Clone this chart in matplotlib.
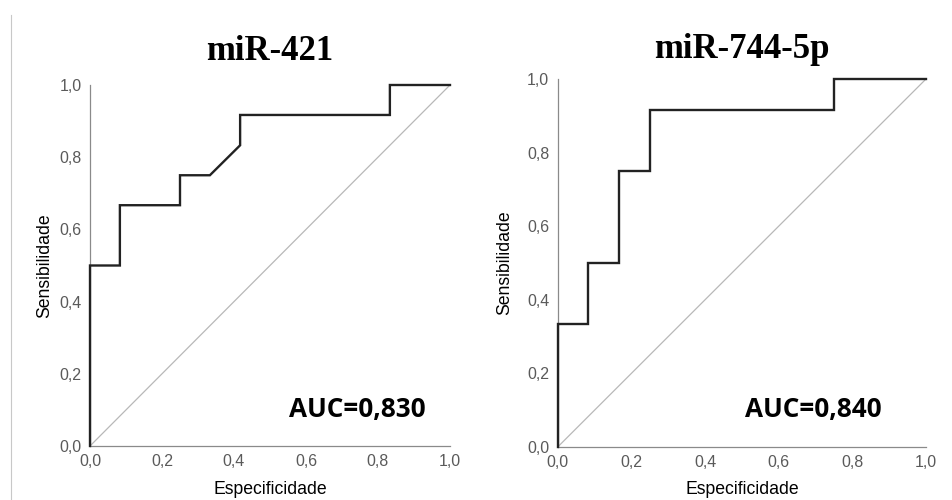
import matplotlib
matplotlib.use("Agg")
import matplotlib.pyplot as plt
from matplotlib.lines import Line2D

# Data
titles = ["miR-421", "miR-744-5p"]
auc_labels = ["AUC=0,830", "AUC=0,840"]
roc1_x = [0.0, 0.0, 0.083, 0.083, 0.25, 0.25, 0.333, 0.417, 0.417, 0.833, 0.833, 1.0]
roc1_y = [0.0, 0.5, 0.5, 0.667, 0.667, 0.75, 0.75, 0.833, 0.917, 0.917, 1.0, 1.0]
roc2_x = [0.0, 0.0, 0.083, 0.083, 0.167, 0.167, 0.25, 0.25, 0.75, 0.75, 1.0]
roc2_y = [0.0, 0.333, 0.333, 0.5, 0.5, 0.75, 0.75, 0.917, 0.917, 1.0, 1.0]
ticks = [0.0, 0.2, 0.4, 0.6, 0.8, 1.0]
tick_labels = ["0,0", "0,2", "0,4", "0,6", "0,8", "1,0"]
xlabel = "Especificidade"
ylabel = "Sensibilidade"

W, H = 953, 500
fig = plt.figure(figsize=(W / 100, H / 100), dpi=100)
fig.patch.set_facecolor("white")

def px_axes(x0, x1, ytop, ybot):
    return fig.add_axes([x0 / W, 1 - ybot / H, (x1 - x0) / W, (ybot - ytop) / H])

panels = [
    dict(box=(90, 450, 85, 446), xs=roc1_x, ys=roc1_y, title=titles[0], ty=52,
         auc=auc_labels[0], ax_x=289, ylx=45),
    dict(box=(557.7, 926, 79, 447), xs=roc2_x, ys=roc2_y, title=titles[1], ty=49,
         auc=auc_labels[1], ax_x=745, ylx=505),
]

for p in panels:
    x0, x1, yt, yb = p["box"]
    ax = px_axes(x0, x1, yt, yb)
    ax.set_xlim(0, 1)
    ax.set_ylim(0, 1)
    ax.plot([0, 1], [0, 1], color="#b8b8b8", lw=0.9, clip_on=False, zorder=2)
    ax.plot(p["xs"], p["ys"], color="#222222", lw=1.7, clip_on=False, zorder=3,
            solid_joinstyle="miter")
    for s in ["top", "right"]:
        ax.spines[s].set_visible(False)
    for s in ["left", "bottom"]:
        ax.spines[s].set_color("#8a8a8a")
        ax.spines[s].set_linewidth(0.9)
    ax.set_xticks(ticks)
    ax.set_xticklabels(tick_labels)
    ax.set_yticks(ticks)
    ax.set_yticklabels(tick_labels)
    ax.tick_params(axis="x", length=0, pad=6, labelsize=11.5, colors="#5a5a5a")
    ax.tick_params(axis="y", length=0, pad=6, labelsize=11.5, colors="#5a5a5a")
    for lab in ax.get_xticklabels() + ax.get_yticklabels():
        lab.set_family("Liberation Sans")
    cx = (x0 + x1) / 2
    fig.text(cx / W, 1 - p["ty"] / H, p["title"], ha="center", va="center",
             family="Liberation Serif", fontweight="bold", fontsize=25)
    fig.text(p["ax_x"] / W, 1 - 417 / H, p["auc"], ha="left", va="baseline",
             family="Open Sans", fontweight="bold", fontsize=18.8)
    fig.text(cx / W, 1 - 494.5 / H, xlabel, ha="center", va="baseline",
             family="Liberation Sans", fontsize=12.7)
    fig.text(p["ylx"] / W, 1 - ((yt + yb) / 2) / H, ylabel, ha="center",
             va="center", rotation=90, family="Liberation Sans", fontsize=12.7)

fig.add_artist(Line2D([11 / W, 11 / W], [0, 1 - 15 / H], color="#c8c8c8", lw=0.8))

fig.savefig("out.png", dpi=100, facecolor="white")
